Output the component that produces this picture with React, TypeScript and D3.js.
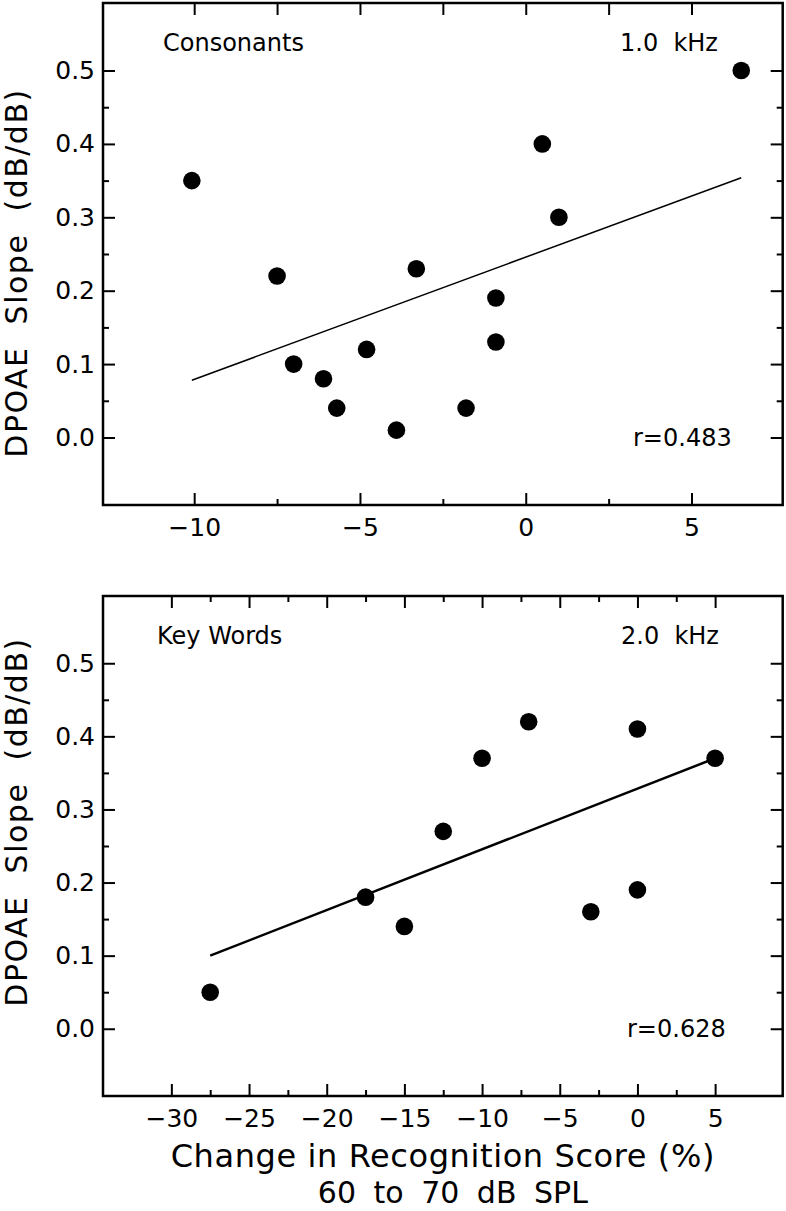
import { useEffect, useRef } from 'react'
import * as d3 from 'd3'

// top panel: consonants, 1.0 kHz
const CONS_X = [-10.07, -7.5, -7.0, -6.1, -5.7, -4.8, -3.9, -3.3, -1.8, -0.9, -0.9, 0.5, 1.0, 6.5]
const CONS_Y = [0.35, 0.22, 0.1, 0.08, 0.04, 0.12, 0.01, 0.23, 0.04, 0.19, 0.13, 0.4, 0.3, 0.5]
const CONS_FIT_X = [-10.07, 6.5]
const CONS_FIT_Y = [0.078, 0.354]

// bottom panel: key words, 2.0 kHz
const KEY_X = [-27.5, -17.5, -15, -12.5, -10, -7, -3, 0, 0, 5]
const KEY_Y = [0.05, 0.18, 0.14, 0.27, 0.37, 0.42, 0.16, 0.41, 0.19, 0.37]
const KEY_FIT_X = [-27.5, 5]
const KEY_FIT_Y = [0.1, 0.37]

const Y_TICKS = [0, 0.1, 0.2, 0.3, 0.4, 0.5]
const Y_MINOR = [0.05, 0.15, 0.25, 0.35, 0.45]
const CONS_X_TICKS = [-10, -5, 0, 5]
const CONS_X_MINOR = [-7.5, -2.5, 2.5]
const CONS_X_TOP = [-10, -7.5, -5, -2.5, 0, 2.5, 5]
const KEY_X_TICKS = [-30, -25, -20, -15, -10, -5, 0, 5]
const KEY_X_MINOR = [-27.5, -22.5, -17.5, -12.5, -7.5, -2.5, 2.5]

const FONT = "'DejaVu Sans', sans-serif"
const LEFT = 103
const RIGHT = 782.7
const Y_DOMAIN: [number, number] = [-0.092, 0.592]

interface PanelCfg {
  top: number
  bottom: number
  xDomain: [number, number]
  xs: number[]
  ys: number[]
  fitX: number[]
  fitY: number[]
  fitWidth: number
  majors: number[]
  minors: number[]
  topMajors: number[]
  topMinors: number[]
  label: string
  labelX: number
  freq: string
  freqX: number
  r: string
  rX: number
  yLabelY: number
}

const PANELS: PanelCfg[] = [
  {
    top: 3, bottom: 505, xDomain: [-12.75, 7.75],
    xs: CONS_X, ys: CONS_Y, fitX: CONS_FIT_X, fitY: CONS_FIT_Y, fitWidth: 1.5,
    majors: CONS_X_TICKS, minors: CONS_X_MINOR, topMajors: CONS_X_TOP, topMinors: [],
    label: 'Consonants', labelX: 163, freq: '1.0  kHz', freqX: 620, r: 'r=0.483', rX: 633,
    yLabelY: 273,
  },
  {
    top: 596, bottom: 1096, xDomain: [-34.4, 9.35],
    xs: KEY_X, ys: KEY_Y, fitX: KEY_FIT_X, fitY: KEY_FIT_Y, fitWidth: 2.5,
    majors: KEY_X_TICKS, minors: KEY_X_MINOR, topMajors: KEY_X_TICKS, topMinors: KEY_X_MINOR,
    label: 'Key Words', labelX: 157, freq: '2.0  kHz', freqX: 621, r: 'r=0.628', rX: 627,
    yLabelY: 822,
  },
]

function drawPanel(root: d3.Selection<SVGGElement, unknown, null, undefined>, p: PanelCfg) {
  const x = d3.scaleLinear().domain(p.xDomain).range([LEFT, RIGHT])
  const y = d3.scaleLinear().domain(Y_DOMAIN).range([p.bottom, p.top])
  const g = root.append('g')

  const style = (s: d3.Selection<SVGGElement, unknown, null, undefined>) => {
    s.select('.domain').remove()
    s.selectAll('.tick line').attr('stroke', '#000').attr('stroke-width', 2)
    s.selectAll('.tick text').attr('fill', '#000').attr('font-size', 25).attr('font-family', FONT)
  }

  // x axes
  g.append('g').attr('transform', `translate(0,${p.bottom})`)
    .call(d3.axisBottom(x).tickValues(p.majors).tickSize(-12).tickPadding(13).tickFormat(d3.format('d') as any))
    .call(style)
  g.append('g').attr('transform', `translate(0,${p.bottom})`)
    .call(d3.axisBottom(x).tickValues(p.minors).tickSize(-6).tickFormat(() => ''))
    .call(style)
  g.append('g').attr('transform', `translate(0,${p.top})`)
    .call(d3.axisTop(x).tickValues(p.topMajors).tickSize(-12).tickFormat(() => ''))
    .call(style)
  g.append('g').attr('transform', `translate(0,${p.top})`)
    .call(d3.axisTop(x).tickValues(p.topMinors).tickSize(-6).tickFormat(() => ''))
    .call(style)

  // y axes
  g.append('g').attr('transform', `translate(${LEFT},0)`)
    .call(d3.axisLeft(y).tickValues(Y_TICKS).tickSize(-12).tickPadding(8).tickFormat(d3.format('.1f') as any))
    .call(style)
  g.append('g').attr('transform', `translate(${LEFT},0)`)
    .call(d3.axisLeft(y).tickValues(Y_MINOR).tickSize(-6).tickFormat(() => ''))
    .call(style)
  g.append('g').attr('transform', `translate(${RIGHT},0)`)
    .call(d3.axisRight(y).tickValues(Y_TICKS).tickSize(-12).tickFormat(() => ''))
    .call(style)
  g.append('g').attr('transform', `translate(${RIGHT},0)`)
    .call(d3.axisRight(y).tickValues(Y_MINOR).tickSize(-6).tickFormat(() => ''))
    .call(style)

  // frame
  g.append('rect')
    .attr('x', LEFT).attr('y', p.top)
    .attr('width', RIGHT - LEFT).attr('height', p.bottom - p.top)
    .attr('fill', 'none').attr('stroke', '#000').attr('stroke-width', 2.5)

  // regression line
  const fit = p.fitX.map((v, i) => [v, p.fitY[i]] as [number, number])
  g.append('path')
    .datum(fit)
    .attr('d', d3.line<[number, number]>().x((d) => x(d[0])).y((d) => y(d[1])))
    .attr('fill', 'none').attr('stroke', '#000').attr('stroke-width', p.fitWidth)

  // points
  g.selectAll('circle.pt')
    .data(p.xs.map((v, i) => [v, p.ys[i]]))
    .join('circle')
    .attr('class', 'pt')
    .attr('cx', (d) => x(d[0])).attr('cy', (d) => y(d[1]))
    .attr('r', 8.8).attr('fill', '#000')

  const txt = (s: string, tx: number, ty: number) =>
    g.append('text').attr('x', tx).attr('y', ty)
      .attr('font-family', FONT).attr('font-size', 24).attr('fill', '#000')
      .style('white-space', 'pre').text(s)

  txt(p.label, p.labelX, p.top + 48)
  txt(p.freq, p.freqX, p.top + 48)
  txt(p.r, p.rX, p.bottom - 59)

  g.append('text')
    .attr('transform', `translate(27,${p.yLabelY}) rotate(-90)`)
    .attr('text-anchor', 'middle')
    .attr('font-family', FONT).attr('font-size', 30).attr('fill', '#000')
    .attr('letter-spacing', 1.5)
    .style('white-space', 'pre')
    .text('DPOAE  Slope  (dB/dB)')
}

export default function App() {
  const svgRef = useRef<SVGSVGElement>(null)

  useEffect(() => {
    const svg = svgRef.current
    if (!svg) return
    const sel = d3.select(svg)
    sel.selectAll('*').remove()
    const root = sel.append('g')

    PANELS.forEach((p) => drawPanel(root, p))

    // shared x title, two lines
    const cx = (LEFT + RIGHT) / 2
    root.append('text')
      .attr('x', cx).attr('y', 1167).attr('text-anchor', 'middle')
      .attr('font-family', FONT).attr('font-size', 32).attr('fill', '#000')
      .attr('letter-spacing', 0.6)
      .text('Change in Recognition Score (%)')
    root.append('text')
      .attr('x', cx + 10).attr('y', 1203).attr('text-anchor', 'middle')
      .attr('font-family', FONT).attr('font-size', 30).attr('fill', '#000')
      .attr('word-spacing', 8)
      .text('60 to 70 dB SPL')
  }, [])

  return (
    <>
      <style>{'body{margin:0;background:#fff}'}</style>
      <svg ref={svgRef} width={786} height={1211} style={{ display: 'block' }} />
    </>
  )
}
